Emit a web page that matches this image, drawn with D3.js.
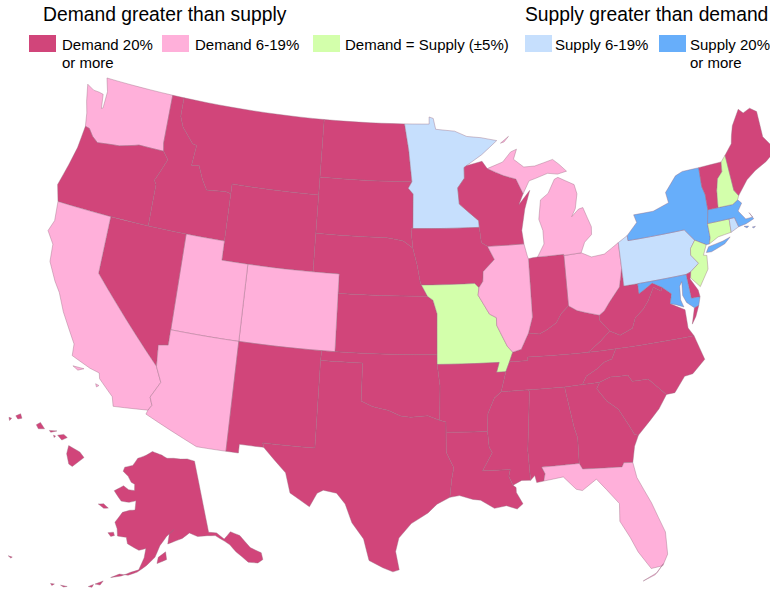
<!DOCTYPE html>
<html>
<head>
<meta charset="utf-8">
<script src="https://cdn.jsdelivr.net/npm/d3@7"></script>
<style>
html, body { margin: 0; padding: 0; background: #fff; }
text { font-family: "Liberation Sans", Arial, sans-serif; fill: #000; }
</style>
</head>
<body>
<div id="canvas"></div>
<script>
//Global var.
var width = 770;
var height = 590;

//Legend
var categories = ["d20", "d6", "eq", "s6", "s20"];
var legendLines = [["Demand 20%", "or more"], ["Demand 6-19%"], ["Demand = Supply (±5%)"], ["Supply 6-19%"], ["Supply 20%", "or more"]];
var headings = ["Demand greater than supply", "Supply greater than demand"];

//Category of each state
var d20States = ["OR","ID","MT","WY","ND","SD","NE","KS","NV","NM","TX","OK","IA","AR","LA","MS","AL","GA","SC","NC","TN","KY","VA","WV","IN","WI","VT","ME","DE","AK","HI"];
var d6States = ["WA","CA","UT","CO","AZ","FL","OH","IL","MI"];
var eqStates = ["MO","NH","CT","NJ"];
var s6States = ["MN","PA","RI"];
var s20States = ["NY","MA","MD"];

//Outlines, [lon, lat]
var WA = [[[-124.2,48.38],[-123.6,48.17],[-123.1,48.15],[-122.75,48.1],[-122.62,47.35],[-122.5,47.4],[-122.45,48.3],[-122.76,49],[-117.03,49],[-117.04,46.42],[-116.92,45.99],[-118.98,46],[-119.3,45.93],[-120.5,45.7],[-121.2,45.65],[-122.3,45.55],[-122.8,45.8],[-123.2,46.15],[-123.55,46.2],[-123.7,46.9],[-123.95,47.5]]];
var OR = [[[-123.55,46.2],[-123.2,46.15],[-122.8,45.8],[-122.3,45.55],[-121.2,45.65],[-120.5,45.7],[-119.3,45.93],[-118.98,46],[-116.92,45.99],[-116.46,45.6],[-116.85,44.95],[-117.22,44.4],[-117.03,44.2],[-117.03,42],[-120,42],[-124.21,42],[-124.56,42.84],[-124.1,44],[-123.75,45]]];
var ID = [[[-117.03,49],[-116.05,49],[-116.05,48],[-115.7,47.45],[-114.7,46.7],[-114.35,46.65],[-114.5,45.56],[-113.9,45.65],[-113.45,44.95],[-113,44.45],[-111.5,44.55],[-111.05,44.48],[-111.05,42],[-114.05,42],[-117.03,42],[-117.03,44.2],[-117.22,44.4],[-116.85,44.95],[-116.46,45.6],[-116.92,45.99],[-117.04,46.42]]];
var MT = [[[-116.05,49],[-104.05,49],[-104.05,45.94],[-104.05,45],[-111.05,45],[-111.05,44.48],[-111.5,44.55],[-113,44.45],[-113.45,44.95],[-113.9,45.65],[-114.5,45.56],[-114.35,46.65],[-114.7,46.7],[-115.7,47.45],[-116.05,48]]];
var WY = [[[-111.05,45],[-104.05,45],[-104.05,43],[-104.05,41],[-109.05,41],[-111.05,41]]];
var ND = [[[-104.05,49],[-97.23,49],[-96.85,47.6],[-96.56,45.94],[-104.05,45.94]]];
var SD = [[[-104.05,45.94],[-96.56,45.94],[-96.85,45.6],[-96.45,45.3],[-96.45,43.5],[-96.6,43.5],[-96.45,42.49],[-97.2,42.85],[-98.5,43],[-104.05,43]]];
var NE = [[[-104.05,43],[-98.5,43],[-97.2,42.85],[-96.45,42.49],[-96.1,41.6],[-95.85,40.7],[-95.77,40.58],[-95.31,40],[-102.05,40],[-102.05,41],[-104.05,41]]];
var KS = [[[-102.05,40],[-95.31,40],[-94.9,39.8],[-94.6,39.1],[-94.62,37],[-102.04,37]]];
var CO = [[[-109.05,41],[-104.05,41],[-102.05,41],[-102.05,40],[-102.04,37],[-103,37],[-109.05,37]]];
var UT = [[[-114.05,42],[-111.05,42],[-111.05,41],[-109.05,41],[-109.05,37],[-114.05,37]]];
var NV = [[[-120,42],[-114.05,42],[-114.05,37],[-114.05,36.2],[-114.75,36.1],[-114.63,35],[-120,39]]];
var CA = [[[-124.21,42],[-120,42],[-120,39],[-114.63,35],[-114.15,34.25],[-114.72,33.4],[-114.5,33],[-114.72,32.72],[-117.12,32.53],[-117.3,33],[-118.4,33.75],[-118.5,34.03],[-119.2,34.15],[-120.6,34.55],[-120.65,35.15],[-121.9,36.6],[-122.5,37.5],[-123,38],[-123.7,38.9],[-123.8,39.8],[-124.4,40.4],[-124.1,41]],
  [[-120.4,34.05],[-119.6,34.05],[-120,33.9]],
  [[-118.6,33.45],[-118.35,33.4],[-118.5,33.3]]];
var AZ = [[[-114.05,37],[-109.05,37],[-109.05,31.33],[-111.07,31.33],[-114.81,32.5],[-114.72,32.72],[-114.5,33],[-114.72,33.4],[-114.15,34.25],[-114.63,35],[-114.75,36.1],[-114.05,36.2]]];
var NM = [[[-109.05,37],[-103,37],[-103.04,36.5],[-103.04,32],[-106.62,32],[-106.53,31.78],[-108.2,31.78],[-108.2,31.33],[-109.05,31.33]]];
var TX = [[[-103.04,36.5],[-100,36.5],[-100,34.56],[-99.2,34.3],[-98.1,34.13],[-97.2,33.85],[-96.5,33.8],[-95.3,33.88],[-94.48,33.64],[-94.04,33.55],[-94.04,33.02],[-94.04,31.99],[-93.55,31.2],[-93.7,30.6],[-93.84,29.69],[-94.7,29.35],[-95.3,28.9],[-96.4,28.35],[-97.2,27.6],[-97.4,26.9],[-97.15,25.96],[-97.55,25.85],[-98.2,26.05],[-99.1,26.4],[-99.5,27.5],[-100.3,28.3],[-100.8,29.25],[-101.4,29.77],[-102.3,29.88],[-102.7,29.7],[-103.15,28.98],[-104.5,29.6],[-104.9,30.6],[-106.53,31.78],[-106.62,32],[-103.04,32]]];
var OK = [[[-103,37],[-102.04,37],[-94.62,37],[-94.62,36.5],[-94.43,35.4],[-94.48,33.64],[-95.3,33.88],[-96.5,33.8],[-97.2,33.85],[-98.1,34.13],[-99.2,34.3],[-100,34.56],[-100,36.5],[-103.04,36.5]]];
var MN = [[[-97.23,49],[-95.15,49],[-95.15,49.38],[-94.8,49.3],[-94.6,48.72],[-93,48.6],[-92,48.3],[-90.8,48.2],[-89.5,48],[-90.8,47.3],[-92.1,46.75],[-92.29,46.66],[-92.29,46.1],[-92.85,45.6],[-92.75,44.75],[-91.25,43.85],[-91.22,43.5],[-96.45,43.5],[-96.45,45.3],[-96.85,45.6],[-96.56,45.94],[-96.85,47.6]]];
var IA = [[[-96.6,43.5],[-96.45,43.5],[-91.22,43.5],[-91.1,42.7],[-90.64,42.5],[-90.15,41.8],[-91.05,41.2],[-91.1,40.7],[-91.42,40.38],[-91.73,40.61],[-95.77,40.58],[-95.85,40.7],[-96.1,41.6],[-96.45,42.49]]];
var MO = [[[-95.77,40.58],[-91.73,40.61],[-91.42,40.38],[-91.5,40],[-90.7,39],[-90.2,38.8],[-90.2,38.4],[-89.5,37.3],[-89.13,36.98],[-89.4,36.5],[-89.7,36],[-90.37,36],[-90.15,36.5],[-94.62,36.5],[-94.62,37],[-94.6,39.1],[-94.9,39.8],[-95.31,40]]];
var AR = [[[-94.62,36.5],[-90.15,36.5],[-90.37,36],[-89.7,36],[-90.1,35],[-90.6,34.7],[-91.1,33.9],[-91.17,33],[-94.04,33.02],[-94.04,33.55],[-94.48,33.64],[-94.43,35.4]]];
var LA = [[[-94.04,33.02],[-91.17,33],[-91.1,32.2],[-90.9,31.9],[-91.6,31],[-89.73,31],[-89.85,30.65],[-89.6,30.18],[-89.4,30.05],[-89.4,29.8],[-89,29.2],[-89.4,28.95],[-90.1,29.15],[-90.9,29.05],[-91.8,29.5],[-92.3,29.55],[-93.2,29.77],[-93.84,29.69],[-93.7,30.6],[-93.55,31.2],[-94.04,31.99]]];
var MS = [[[-90.1,35],[-88.2,35],[-88.1,34.9],[-88.47,31.9],[-88.4,30.37],[-89,30.4],[-89.6,30.18],[-89.85,30.65],[-89.73,31],[-91.6,31],[-90.9,31.9],[-91.1,32.2],[-91.17,33],[-91.1,33.9],[-90.6,34.7]]];
var AL = [[[-88.2,35],[-85.6,34.98],[-85.18,32.87],[-85,32.3],[-85.05,31],[-87.6,31],[-87.4,30.65],[-87.52,30.28],[-88,30.23],[-88.1,30.6],[-88.4,30.37],[-88.47,31.9],[-88.1,34.9]]];
var GA = [[[-85.6,34.98],[-84.32,35],[-83.1,35],[-83.35,34.7],[-82.75,34],[-82,33.5],[-81.4,32.6],[-81.1,32.1],[-80.85,32.03],[-81.2,31.5],[-81.45,30.7],[-82.05,30.75],[-82.2,30.55],[-84.86,30.7],[-85.05,31],[-85,32.3],[-85.18,32.87]]];
var FL = [[[-87.6,31],[-85.05,31],[-84.86,30.7],[-82.2,30.55],[-82.05,30.75],[-81.45,30.7],[-81.3,29.9],[-80.55,28.5],[-79.9,26.9],[-79.95,25.75],[-80.35,25.2],[-81.1,25.15],[-81.8,26.1],[-82.2,26.9],[-82.75,27.8],[-82.65,28.7],[-83.4,29.5],[-84,30.1],[-85,29.6],[-85.4,29.7],[-86.2,30.4],[-87.52,30.28],[-87.4,30.65]],
  [[-80.3,25.3],[-80.75,24.9],[-81.7,24.57],[-80.9,24.8]]];
var SC = [[[-83.1,35],[-82.3,35.2],[-81.05,35.15],[-80.8,34.82],[-79.67,34.8],[-78.55,33.86],[-79.2,33.2],[-79.9,32.7],[-80.85,32.03],[-81.1,32.1],[-81.4,32.6],[-82,33.5],[-82.75,34],[-83.35,34.7]]];
var NC = [[[-84.32,35],[-83.1,35],[-82.3,35.2],[-81.05,35.15],[-80.8,34.82],[-79.67,34.8],[-78.55,33.86],[-77.95,33.87],[-77.1,34.6],[-76.5,34.65],[-75.5,35.25],[-75.97,36.55],[-81.68,36.59],[-82.05,36.1],[-82.6,36],[-83.2,35.7],[-84,35.4]]];
var TN = [[[-90.1,35],[-88.2,35],[-85.6,34.98],[-84.32,35],[-84,35.4],[-83.2,35.7],[-82.6,36],[-82.05,36.1],[-81.68,36.59],[-83.68,36.6],[-88.07,36.68],[-88.07,36.5],[-89.4,36.5],[-89.7,36]]];
var KY = [[[-89.4,36.5],[-89.13,36.98],[-88.5,37.1],[-87.9,37.9],[-87.1,37.8],[-86.5,38],[-85.8,38.3],[-85.4,38.73],[-84.8,39.1],[-84.2,38.8],[-83.6,38.65],[-82.6,38.42],[-82.6,38.15],[-81.97,37.54],[-82.7,37.1],[-83.68,36.6],[-88.07,36.68],[-88.07,36.5]]];
var VA = [[[-83.68,36.6],[-82.7,37.1],[-81.97,37.54],[-81.25,37.25],[-80.3,37.5],[-80,38],[-79.3,38.4],[-78.87,38.77],[-78.35,39.4],[-77.83,39.13],[-77.72,39.32],[-77.1,38.9],[-77.3,38.4],[-76.3,37.95],[-76.3,37],[-75.97,36.55],[-81.68,36.59]],
  [[-75.95,37.15],[-75.6,37.95],[-75.25,38.03],[-75.6,37.5]]];
var WV = [[[-82.6,38.42],[-82.2,38.6],[-81.75,39],[-80.87,39.7],[-80.52,40.64],[-80.52,39.72],[-79.48,39.72],[-79.48,39.2],[-78.4,39.62],[-77.72,39.32],[-77.83,39.13],[-78.35,39.4],[-78.87,38.77],[-79.3,38.4],[-80,38],[-80.3,37.5],[-81.25,37.25],[-81.97,37.54],[-82.6,38.15]]];
var OH = [[[-84.8,41.7],[-83.45,41.73],[-82.7,41.45],[-81.7,41.5],[-80.52,41.98],[-80.52,40.64],[-80.87,39.7],[-81.75,39],[-82.2,38.6],[-82.6,38.42],[-83.6,38.65],[-84.2,38.8],[-84.8,39.1]]];
var IN = [[[-87.53,41.71],[-87.2,41.75],[-86.82,41.76],[-84.8,41.76],[-84.8,41.7],[-84.8,39.1],[-85.4,38.73],[-85.8,38.3],[-86.5,38],[-87.1,37.8],[-87.9,37.9],[-87.53,38.7],[-87.53,39.35]]];
var IL = [[[-90.64,42.5],[-87.8,42.5],[-87.6,41.85],[-87.53,41.71],[-87.53,39.35],[-87.53,38.7],[-87.9,37.9],[-88.5,37.1],[-89.13,36.98],[-89.5,37.3],[-90.2,38.4],[-90.2,38.8],[-90.7,39],[-91.5,40],[-91.42,40.38],[-91.1,40.7],[-91.05,41.2],[-90.15,41.8]]];
var WI = [[[-92.29,46.66],[-92.1,46.75],[-90.8,46.95],[-90.4,46.55],[-89.1,46.13],[-88.1,45.9],[-87.6,45.1],[-88,44.55],[-87.05,45.25],[-87.55,44.3],[-87.9,43.2],[-87.8,42.5],[-90.64,42.5],[-91.1,42.7],[-91.22,43.5],[-91.25,43.85],[-92.75,44.75],[-92.85,45.6],[-92.29,46.1]]];
var MI = [[[-84.8,41.7],[-84.8,41.76],[-86.82,41.76],[-86.25,42.4],[-86.25,43.1],[-86.5,43.7],[-86.25,44.7],[-85.6,45],[-85,45.7],[-84.7,45.78],[-83.45,45.3],[-83.3,44.8],[-83.55,44.05],[-83.9,43.65],[-83.3,44],[-82.95,44.05],[-82.45,43],[-82.5,42.6],[-83.1,42.25],[-83.45,41.73]],
  [[-90.4,46.55],[-89.1,46.85],[-88.4,47.35],[-87.9,47.47],[-88.2,46.95],[-87.4,46.5],[-86.5,46.5],[-85,46.75],[-84.5,46.45],[-83.95,46.05],[-84.7,45.95],[-85.5,46.05],[-86.5,45.85],[-87.05,45.75],[-87.6,45.1],[-88.1,45.9],[-89.1,46.13]],
  [[-89.2,47.85],[-88.5,48.18],[-88.9,47.9]]];
var PA = [[[-80.52,41.98],[-79.76,42.27],[-79.76,42],[-75.35,42],[-74.7,41.36],[-75.13,40.98],[-75.2,40.65],[-74.72,40.15],[-75.42,39.8],[-75.79,39.72],[-79.48,39.72],[-80.52,39.72],[-80.52,40.64]]];
var NY = [[[-79.76,42.27],[-78.9,42.85],[-79.05,43.27],[-77.5,43.27],[-76.2,43.55],[-76.3,44.1],[-75.3,44.85],[-74.7,45],[-73.35,45],[-73.4,44],[-73.25,43.55],[-73.27,42.75],[-73.5,42.05],[-73.5,41.3],[-73.65,41],[-73.9,41],[-74.7,41.36],[-75.35,42],[-79.76,42]],
  [[-74,40.6],[-73.75,40.87],[-72.6,40.98],[-72,41.1],[-72.5,40.82],[-73.6,40.58]]];
var NJ = [[[-74.7,41.36],[-73.9,41],[-74.25,40.5],[-74,40.45],[-74.1,39.75],[-74.9,38.95],[-75.5,39.5],[-75.42,39.8],[-74.72,40.15],[-75.2,40.65],[-75.13,40.98]]];
var DE = [[[-75.79,39.72],[-75.42,39.8],[-75.55,39.45],[-75.1,38.8],[-75.05,38.45],[-75.7,38.46]]];
var MD = [[[-79.48,39.72],[-75.79,39.72],[-75.7,38.46],[-75.05,38.45],[-75.25,38.03],[-75.6,37.95],[-76.1,38.3],[-76.3,38.7],[-76.2,39.4],[-76.4,39.2],[-76.5,38.5],[-76.35,38.1],[-76.9,38.3],[-77.3,38.4],[-77.1,38.9],[-77.72,39.32],[-78.4,39.62],[-79.48,39.2]]];
var CT = [[[-73.5,42.05],[-71.8,42.02],[-71.85,41.32],[-72.9,41.25],[-73.65,41],[-73.5,41.3]]];
var RI = [[[-71.8,42.02],[-71.38,42.02],[-71.2,41.5],[-71.85,41.32]]];
var MA = [[[-73.5,42.05],[-73.27,42.75],[-72.46,42.73],[-71.3,42.7],[-70.85,42.87],[-70.6,42.65],[-71,42.3],[-70.55,41.8],[-70,41.8],[-70.2,42.07],[-69.95,41.7],[-70.6,41.55],[-71.2,41.5],[-71.38,42.02],[-71.8,42.02]],
  [[-70.8,41.45],[-70.45,41.4],[-70.6,41.33]],
  [[-70.2,41.3],[-69.95,41.3],[-70.1,41.23]]];
var VT = [[[-73.35,45],[-71.5,45.01],[-71.6,44.5],[-72.05,44.2],[-72.3,43.6],[-72.46,42.73],[-73.27,42.75],[-73.25,43.55],[-73.4,44]]];
var NH = [[[-71.5,45.01],[-71.08,45.3],[-70.98,43.4],[-70.7,43.07],[-70.85,42.87],[-71.3,42.7],[-72.46,42.73],[-72.3,43.6],[-72.05,44.2],[-71.6,44.5]]];
var ME = [[[-71.08,45.3],[-70.4,45.8],[-70.25,46.2],[-70,46.7],[-69.23,47.46],[-68.9,47.2],[-68.3,47.35],[-67.8,47.07],[-67.8,45.7],[-67.45,45.3],[-67,44.85],[-68,44.4],[-69,44.1],[-69.8,43.75],[-70.7,43.07],[-70.98,43.4]]];
var AK = [[[-141,69.65],[-143.5,70.1],[-146,70.2],[-148.5,70.4],[-151,70.45],[-153,70.9],[-156.6,71.35],[-159,70.8],[-162,70.3],[-163.5,69.3],[-166.2,68.9],[-166.5,68.35],[-164.5,67.8],[-163.2,67.1],[-162,66.9],[-161.8,66.1],[-163.7,66.1],[-165.5,66.5],[-168.1,65.65],[-165.4,64.5],[-163,64.5],[-161,64.8],[-161,63.6],[-162.5,63.5],[-164.5,63.1],[-166.1,61.7],[-165.2,60.9],[-164.8,60],[-162.5,60],[-162,59.2],[-159,58.5],[-157.3,58.8],[-157.6,57.6],[-158.7,56],[-160.5,55.6],[-162.5,55],[-164.8,54.6],[-163,55.2],[-161,55.2],[-159,55.7],[-157,56.6],[-155,57.7],[-153.8,59.2],[-152,60.4],[-150,61.2],[-151.3,60.7],[-151.8,59.4],[-150,59.7],[-148,60],[-146,60.6],[-144,60],[-141.5,59.9],[-139.5,59.7],[-137.5,58.7],[-136.5,58.1],[-135.5,57],[-134.5,56.2],[-133.5,55.3],[-131.5,54.8],[-130.2,55],[-130,55.9],[-132,57],[-133.5,58.9],[-135.5,59.7],[-137.5,59],[-139,60],[-141,60.3]],
  [[-154.5,56.9],[-152.2,57.4],[-152.4,58.4],[-154.2,57.7]],
  [[-167.4,60.2],[-166,60.4],[-165.6,60],[-166.5,59.8]],
  [[-171.8,63.5],[-170.3,63.7],[-168.7,63.3],[-170,63.15]],
  [[-167.9,53.4],[-166.3,54],[-166.8,53.4]],
  [[-169.2,52.9],[-168.2,53.3],[-168.4,52.9]],
  [[-174.9,52.1],[-173.5,52.2],[-174.2,52]],
  [[-177,51.9],[-176.2,52],[-176.6,51.7]],
  [[172.5,52.9],[173.4,53],[173.2,52.8]]];
var HI = [[[-155.9,20.25],[-155.1,19.85],[-154.8,19.5],[-155.65,18.95],[-155.9,19.1],[-156.05,19.75]],
  [[-156.7,20.9],[-156.25,20.95],[-156,20.75],[-156.4,20.6]],
  [[-157.3,21.2],[-156.75,21.17],[-157.2,21.08]],
  [[-157,20.9],[-156.85,20.85],[-156.95,20.75]],
  [[-158.25,21.55],[-157.95,21.7],[-157.65,21.3],[-158.1,21.3]],
  [[-159.75,22.1],[-159.4,22.23],[-159.3,21.95],[-159.6,21.9]],
  [[-160.25,22],[-160.05,21.95],[-160.2,21.8]]];

var lowerStates = {WA:WA,OR:OR,ID:ID,MT:MT,WY:WY,ND:ND,SD:SD,NE:NE,KS:KS,CO:CO,UT:UT,NV:NV,CA:CA,AZ:AZ,NM:NM,TX:TX,OK:OK,MN:MN,IA:IA,MO:MO,AR:AR,LA:LA,MS:MS,AL:AL,GA:GA,FL:FL,SC:SC,NC:NC,TN:TN,KY:KY,VA:VA,WV:WV,OH:OH,IN:IN,IL:IL,WI:WI,MI:MI,PA:PA,NY:NY,NJ:NJ,DE:DE,MD:MD,CT:CT,RI:RI,MA:MA,VT:VT,NH:NH,ME:ME};

var catOf = {};
[d20States, d6States, eqStates, s6States, s20States].forEach(function(list, i){
    list.forEach(function(s){ catOf[s] = categories[i]; });
});

var color = d3.scaleOrdinal()
    .domain(categories)
    .range(["#d1457a", "#ffb0da", "#d3ffab", "#c6dffd", "#67aefa"]);

//parallels should stay curved, so add vertices along the long edges
function dense(ring){
    var out = [];
    for(var i=0; i<ring.length; i++){
        var a = ring[i], b = ring[(i+1) % ring.length];
        var n = Math.ceil(Math.max(Math.abs(b[0]-a[0]), Math.abs(b[1]-a[1])));
        for(var k=0; k<n; k++){
            out.push([a[0] + (b[0]-a[0])*k/n, a[1] + (b[1]-a[1])*k/n]);
        }
    }
    out.push(out[0].slice());
    // d3 wants clockwise rings
    if(d3.geoArea({type:"Polygon", coordinates:[out]}) > 2*Math.PI) out.reverse();
    return out;
}

function feature(id, rings){
    return {type:"Feature", id:id, geometry:{type:"MultiPolygon", coordinates:rings.map(function(r){ return [dense(r)]; })}};
}

//the map is stretched vertically
function stretched(proj, sy, y0){
    return {stream: function(s){
        return proj.stream(d3.geoTransform({point:function(x,y){ this.stream.point(x, y0 + (y-y0)*sy); }}).stream(s));
    }};
}

var lowerProj = d3.geoConicEqualArea().parallels([25,42]).rotate([95.5,0]).center([0,37.5]).scale(998).translate([425,345]);
var akProj = d3.geoConicEqualArea().parallels([55,65]).rotate([154,0]).center([-2,58.5]).scale(445).translate([151,551]);
var hiProj = d3.geoConicEqualArea().parallels([8,18]).rotate([157,0]).center([-3,19.9]).scale(840).translate([12,451]);

var canvas = d3.select("div#canvas").append("svg")
    .attr("width", width)
    .attr("height", height);

var groups = [
    {path: d3.geoPath(stretched(lowerProj, 1.11, 345)), feats: Object.keys(lowerStates).map(function(k){ return feature(k, lowerStates[k]); })},
    {path: d3.geoPath(stretched(akProj, 1, 551)), feats: [feature("AK", AK)]},
    {path: d3.geoPath(stretched(hiProj, 1.1, 451)), feats: [feature("HI", HI)]}
];

groups.forEach(function(g){
    canvas.append("g").selectAll("path")
        .data(g.feats)
        .enter().append("path")
        .attr("d", g.path)
        .attr("fill", function(d){ return color(catOf[d.id]); })
        .attr("stroke", "#9a6a82")
        .attr("stroke-width", 0.4)
        .attr("stroke-linejoin", "round");
});

//Headings
canvas.selectAll("text.head")
    .data(headings)
    .enter().append("text")
    .attr("class", "head")
    .attr("x", function(d,i){ return [43, 525][i]; })
    .attr("y", 21)
    .attr("font-size", 19.3)
    .text(function(d){ return d; });

//Legend
var swatchX = [29, 162, 313, 525, 659];
var textX = [62, 195, 345, 555, 690];
var legend = canvas.selectAll("g.legend")
    .data(categories)
    .enter().append("g")
    .attr("class", "legend");
legend.append("rect")
    .attr("x", function(d,i){ return swatchX[i]; })
    .attr("y", 35)
    .attr("width", 27)
    .attr("height", 17)
    .attr("fill", function(d){ return color(d); });
legend.each(function(d,i){
    d3.select(this).selectAll("text")
        .data(legendLines[i])
        .enter().append("text")
        .attr("x", textX[i])
        .attr("y", function(t,j){ return 50 + j*18; })
        .attr("font-size", 15)
        .text(function(t){ return t; });
});
</script>
</body>
</html>
